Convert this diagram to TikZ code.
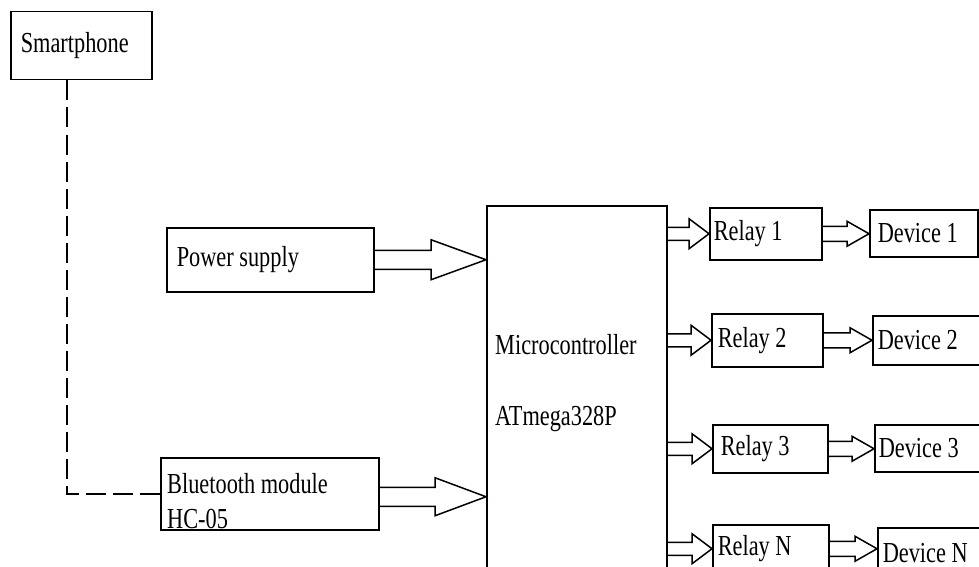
\documentclass[tikz,border=0pt]{standalone}
\usepackage{fontspec}
\setmainfont{Liberation Serif}[FakeStretch=0.77]
\usepackage{tikz}
\usetikzlibrary{calc}

\tikzset{
  blk/.style n args={3}{draw, line width=1.5pt, anchor=north west, inner ysep=0pt,
    inner xsep=#3pt, minimum width=#1pt, minimum height=#2pt,
    text width=#1pt-2*#3pt, align=flush left},
  txt/.style={inner sep=0pt, anchor=base west, align=flush left},
  blockline/.style={draw, line width=1.5pt, line join=miter},
  link/.style={draw, line width=1.5pt, dash pattern=on 20pt off 7pt}
}

% hollow block arrow, height taken from #1, tip at the x of #2
\newcommand{\blockarrow}[5]{%
  \draw[blockline] let \p1=(#1), \p2=(#2) in
    (\x1,\y1+#3pt) -- (\x2-#5pt,\y1+#3pt) -- (\x2-#5pt,\y1+#4pt) -- (\x2,\y1)
    -- (\x2-#5pt,\y1-#4pt) -- (\x2-#5pt,\y1-#3pt) -- (\x1,\y1-#3pt);}

\begin{document}
\begin{tikzpicture}[x=1pt,y=-1pt,font=\fontsize{29}{35}\selectfont]
  \useasboundingbox (0,0) rectangle (979,567);
  \clip (0,0) rectangle (979,567);

  \node[blk={141}{68}{10}] (phone) at (10,11) {Smartphone};
  \node[blk={207}{64}{10}] (power) at (166,227) {Power supply};
  \node[blk={218}{72}{5}] (bt) at (160,457) {};
  \node[txt] (btname) at ($(bt.north west)+(7,71)$) {Bluetooth module\\HC-05};

  \node[blk={180}{420}{5}] (mcu) at (486,205) {};
  \node[txt] (mcuname) at ($(mcu.north west)+(9,149)$) {Microcontroller};
  \node[txt] (mcuchip) at ($(mcu.north west)+(9,220)$) {ATmega328P};

  \node[blk={112}{52}{4}] (relay1) at (709,207) {Relay 1};
  \node[blk={111}{53}{6}] (relay2) at (711,313) {Relay 2};
  \node[blk={115}{48}{8}] (relay3) at (712,424) {Relay 3};
  \node[blk={116}{48}{5}] (relayN) at (712,524) {Relay N};

  \node[blk={108}{47}{8}] (dev1) at (869,209) {Device 1};
  \node[blk={140}{49}{5}] (dev2) at (872,315) {Device 2};
  \node[blk={140}{47}{4}] (dev3) at (874,424) {Device 3};
  \node[blk={140}{50}{5}] (devN) at (877,527) {Device N};

  \draw[link] ([xshift=-14.5pt]phone.south) |- (bt.west);

  \blockarrow{power.east}{mcu.west}{9.5}{20}{55}
  \blockarrow{[yshift=-3pt]bt.east}{mcu.west}{9.5}{19}{51}

  \blockarrow{mcu.east |- relay1.west}{relay1.west}{6.5}{15}{20}
  \blockarrow{mcu.east |- relay2.west}{relay2.west}{6.5}{15}{20}
  \blockarrow{mcu.east |- relay3.west}{relay3.west}{6.5}{15}{20}
  \blockarrow{mcu.east |- relayN.west}{relayN.west}{6.5}{15}{20}

  \blockarrow{relay1.east}{dev1.west}{7.5}{12.5}{22}
  \blockarrow{relay2.east}{dev2.west}{7.5}{12.5}{22}
  \blockarrow{relay3.east}{dev3.west}{7.5}{12.5}{22}
  \blockarrow{relayN.east}{devN.west}{7.5}{12.5}{22}
\end{tikzpicture}
\end{document}
